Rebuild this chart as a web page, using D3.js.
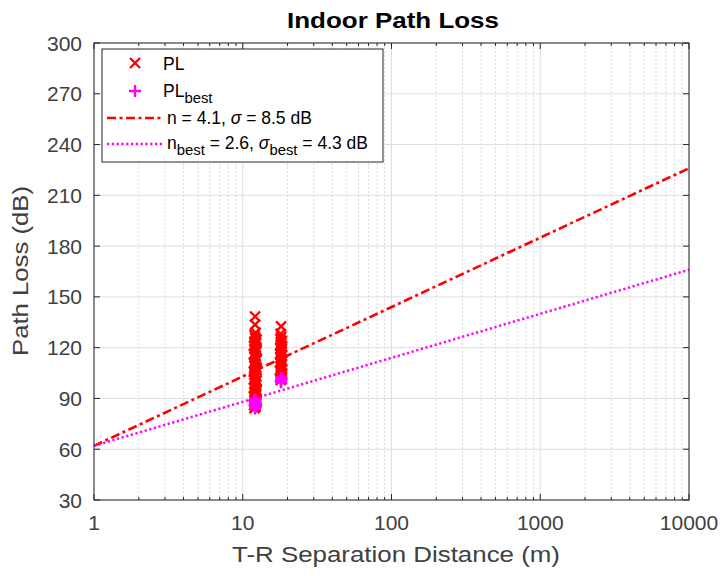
<!DOCTYPE html>
<html><head><meta charset="utf-8">
<script src="https://cdn.jsdelivr.net/npm/d3@7"></script>
<style>body{margin:0;background:#fff;} svg{display:block;} text{font-family:"Liberation Sans",Arial,sans-serif;}</style>
</head><body><div id="chart"></div>
<script>
// ---- data ----
const xTicks = [1, 10, 100, 1000, 10000];
const yTicks = [30, 60, 90, 120, 150, 180, 210, 240, 270, 300];
const plDist1 = [12.0,12.2,11.9,12.3,12.1,12.4,12.0,12.2,11.9,12.3,12.1,12.0,12.4,12.2,11.9,12.1,12.3,12.0,12.2,12.4,11.9,12.1,12.3,12.0,12.2,11.9,12.4,12.1,12.3,12.0,12.2,11.9,12.1,12.4,12.3,12.0,12.2,11.9,12.1,12.3,12.4,12.0,12.2,11.9,12.1,12.3,12.0,12.4,12.2,12.1,12.0,12.2,12.1,12.1];
const plVal1 = [84.3,85.2,86.1,87.0,87.6,88.4,89.5,90.2,91.3,92.1,92.9,93.6,94.7,95.5,96.1,97.3,98.0,98.9,99.6,100.6,101.3,102.4,103.0,104.1,104.9,105.6,106.7,107.3,108.4,109.0,110.1,110.9,111.6,112.7,113.3,114.4,115.0,116.2,116.9,117.5,118.6,119.3,120.4,121.0,122.1,122.8,123.6,124.7,125.3,126.4,127.6,128.9,133.6,138.4];
const plDist2 = [18.0,18.3,17.9,18.2,18.4,18.1,17.8,18.3,18.0,18.2,17.9,18.4,18.1,18.0,18.3,17.8,18.2,18.1,17.9,18.4,18.0,18.2,18.3,17.9,18.1,18.0,18.1];
const plVal2 = [100.9,101.6,102.3,103.2,104.5,105.4,106.6,107.5,108.8,109.7,110.9,111.8,113.0,114.1,115.2,116.3,117.4,118.5,119.6,120.7,121.8,122.9,124.0,125.1,126.4,128.2,132.6];
const bestDist = [12.1,12.2,12.0,12.3,12.1,12.2,12.0,12.1,18.1,18.0,18.2,18.1];
const bestVal = [84.1,85.0,85.8,86.6,87.4,88.2,88.9,89.7,99.6,100.4,101.3,102.4];
const lineDist = [1, 10000];
const lineFit = [62, 226];      // n = 4.1
const lineBest = [62, 166];     // n_best = 2.6

// ---- layout ----
const W = 727, H = 576;
const L = 94, R = 689, T = 43, B = 500;
const svg = d3.select("#chart").append("svg").attr("width", W).attr("height", H);
const x = d3.scaleLog().domain([1, 10000]).range([L, R]);
const y = d3.scaleLinear().domain([30, 300]).range([B, T]);
const axisCol = "#262626";
const dashDot = "9,3.5,3,3.5", dotted = "2.2,2.6";

// minor x grid
const minorX = [];
[1,10,100,1000].forEach(dec => { for (let k = 2; k <= 9; k++) minorX.push(dec*k); });
svg.append("g").selectAll("line").data(minorX).join("line")
  .attr("x1", d => x(d)).attr("x2", d => x(d)).attr("y1", T).attr("y2", B)
  .attr("stroke", "#d8d8d8").attr("stroke-width", 1).attr("stroke-dasharray", "2,2");
// major grids
svg.append("g").selectAll("line").data(xTicks).join("line")
  .attr("x1", d => x(d)).attr("x2", d => x(d)).attr("y1", T).attr("y2", B)
  .attr("stroke", "#dedede").attr("stroke-width", 1);
svg.append("g").selectAll("line").data(yTicks).join("line")
  .attr("x1", L).attr("x2", R).attr("y1", d => y(d)).attr("y2", d => y(d))
  .attr("stroke", "#dedede").attr("stroke-width", 1);

// lines
const lineGen = d3.line().x(d => x(d[0])).y(d => y(d[1]));
const plot = svg.append("g");
plot.append("path").datum(lineDist.map((d,i)=>[d,lineFit[i]])).attr("d", lineGen)
  .attr("fill","none").attr("stroke","#ff0000").attr("stroke-width",2.6).attr("stroke-dasharray",dashDot);
plot.append("path").datum(lineDist.map((d,i)=>[d,lineBest[i]])).attr("d", lineGen)
  .attr("fill","none").attr("stroke","#ff00ff").attr("stroke-width",2.5).attr("stroke-dasharray",dotted);

// markers
const ms = 5;
function xMark(g, cx, cy, col){
  g.append("path").attr("d", `M${cx-ms},${cy-ms}L${cx+ms},${cy+ms}M${cx-ms},${cy+ms}L${cx+ms},${cy-ms}`)
   .attr("stroke", col).attr("stroke-width", 2.3).attr("fill","none");
}
function pMark(g, cx, cy, col){
  const m = 6;
  g.append("path").attr("d", `M${cx-m},${cy}L${cx+m},${cy}M${cx},${cy-m}L${cx},${cy+m}`)
   .attr("stroke", col).attr("stroke-width", 2.4).attr("fill","none");
}
const mk = svg.append("g");
plDist1.forEach((d,i)=> xMark(mk, x(d), y(plVal1[i]), "#ff0000"));
plDist2.forEach((d,i)=> xMark(mk, x(d), y(plVal2[i]), "#ff0000"));
bestDist.forEach((d,i)=> pMark(mk, x(d), y(bestVal[i]), "#ff00ff"));

// axes box and ticks
const ax = svg.append("g").attr("stroke", axisCol).attr("stroke-width", 1);
ax.append("rect").attr("x", L).attr("y", T).attr("width", R-L).attr("height", B-T).attr("fill","none");
const tl = 6, tlm = 3;
xTicks.forEach(d => {
  ax.append("line").attr("x1",x(d)).attr("x2",x(d)).attr("y1",B).attr("y2",B-tl);
  ax.append("line").attr("x1",x(d)).attr("x2",x(d)).attr("y1",T).attr("y2",T+tl);
});
minorX.forEach(d => {
  ax.append("line").attr("x1",x(d)).attr("x2",x(d)).attr("y1",B).attr("y2",B-tlm);
  ax.append("line").attr("x1",x(d)).attr("x2",x(d)).attr("y1",T).attr("y2",T+tlm);
});
yTicks.forEach(d => {
  ax.append("line").attr("x1",L).attr("x2",L+tl).attr("y1",y(d)).attr("y2",y(d));
  ax.append("line").attr("x1",R).attr("x2",R-tl).attr("y1",y(d)).attr("y2",y(d));
});

// tick labels
const tc = "#404040";
svg.append("g").selectAll("text").data(xTicks).join("text")
  .attr("x", d => x(d)).attr("y", B + 30).attr("text-anchor","middle")
  .attr("font-size", 21).attr("fill", tc).text(d => d);
svg.append("g").selectAll("text").data(yTicks).join("text")
  .attr("x", L - 12).attr("y", d => y(d) + 7.5).attr("text-anchor","end")
  .attr("font-size", 21).attr("fill", tc).text(d => d);

// axis labels
svg.append("text").attr("x", 396).attr("y", 562).attr("text-anchor","middle")
  .attr("font-size", 22).attr("fill", tc)
  .attr("textLength", 328).attr("lengthAdjust", "spacingAndGlyphs")
  .text("T-R Separation Distance (m)");
svg.append("text").attr("transform", `translate(28,271) rotate(-90)`).attr("text-anchor","middle")
  .attr("font-size", 22).attr("fill", tc)
  .attr("textLength", 170).attr("lengthAdjust", "spacingAndGlyphs")
  .text("Path Loss (dB)");
svg.append("text").attr("x", 393).attr("y", 28).attr("text-anchor","middle")
  .attr("font-size", 22).attr("font-weight","bold").attr("fill", "#000")
  .attr("textLength", 212).attr("lengthAdjust", "spacingAndGlyphs")
  .text("Indoor Path Loss");

// legend
const lg = svg.append("g");
lg.append("rect").attr("x",102).attr("y",49).attr("width",281).attr("height",113)
  .attr("fill","#fff").attr("stroke", axisCol).attr("stroke-width",1);
xMark(lg, 135, 63, "#ff0000");
pMark(lg, 135, 91, "#ff00ff");
lg.append("line").attr("x1",107).attr("x2",162).attr("y1",118).attr("y2",118)
  .attr("stroke","#ff0000").attr("stroke-width",2.6).attr("stroke-dasharray",dashDot);
lg.append("line").attr("x1",107).attr("x2",162).attr("y1",144).attr("y2",144)
  .attr("stroke","#ff00ff").attr("stroke-width",2.5).attr("stroke-dasharray",dotted);
const fs = 17.5;
const t1 = lg.append("text").attr("x",163).attr("y",70).attr("font-size",fs).attr("fill","#000");
t1.append("tspan").text("PL");
const t2 = lg.append("text").attr("x",163).attr("y",97).attr("font-size",fs).attr("fill","#000");
t2.append("tspan").text("PL");
t2.append("tspan").attr("dy",6).attr("font-size",fs*0.85).text("best");
const t3 = lg.append("text").attr("x",167).attr("y",124).attr("font-size",fs).attr("fill","#000");
t3.append("tspan").text("n = 4.1, ");
t3.append("tspan").attr("font-style","italic").text("σ");
t3.append("tspan").text(" = 8.5 dB");
const t4 = lg.append("text").attr("x",167).attr("y",149).attr("font-size",fs).attr("fill","#000");
t4.append("tspan").text("n");
t4.append("tspan").attr("dy",6).attr("font-size",fs*0.85).text("best");
t4.append("tspan").attr("dy",-6).text(" = 2.6, ");
t4.append("tspan").attr("font-style","italic").text("σ");
t4.append("tspan").attr("dy",6).attr("font-size",fs*0.85).text("best");
t4.append("tspan").attr("dy",-6).text(" = 4.3 dB");
</script></body></html>
